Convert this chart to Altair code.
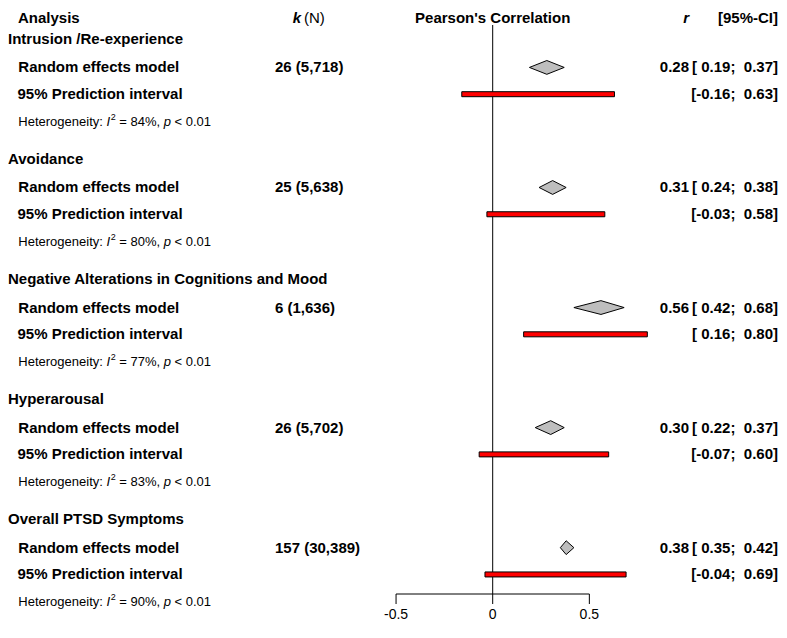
import altair as alt
import pandas as pd

# ---------------- data ----------------
groups = ["Intrusion /Re-experience", "Avoidance",
          "Negative Alterations in Cognitions and Mood", "Hyperarousal",
          "Overall PTSD Symptoms"]
k_n = ["26 (5,718)", "25 (5,638)", "6 (1,636)", "26 (5,702)", "157 (30,389)"]
r_est = [0.28, 0.31, 0.56, 0.30, 0.38]
ci_lo = [0.19, 0.24, 0.42, 0.22, 0.35]
ci_hi = [0.37, 0.38, 0.68, 0.37, 0.42]
pi_lo = [-0.16, -0.03, 0.16, -0.07, -0.04]
pi_hi = [0.63, 0.58, 0.80, 0.60, 0.69]
i2 = [84, 80, 77, 83, 90]
p_txt = ["< 0.01", "< 0.01", "< 0.01", "< 0.01", "< 0.01"]
rem_label = "Random effects model"
pi_label = "95% Prediction interval"
axis_ticks = [-0.5, 0.0, 0.5]
axis_labels = ["-0.5", "0", "0.5"]

# ---------------- layout ----------------
FONT = "Liberation Sans"
W, H = 771, 615
GROUP_STEP = 4.35
NB = "\u00a0"

XS = alt.Scale(domain=[-2.5075, 1.4811], nice=False, zero=False, padding=0)
YS = alt.Scale(domain=[-1.12319, 21.1594], range=[0, H], nice=False, zero=False, padding=0)

AXIS_Y = 586
TICK_END = 596
LABEL_Y = 607
HEAD_Y = 15


def num(v):
    return f"{v:.2f}" if v < 0 else f"{NB}{v:.2f}"


def ci(lo, hi):
    return f"[{num(lo)};{NB}{NB}{hi:.2f}]"


df = pd.DataFrame({
    "group": groups, "kn": k_n, "est": r_est, "lo": ci_lo, "hi": ci_hi,
    "plo": pi_lo, "phi": pi_hi, "i2": i2, "p": p_txt,
})
df["g"] = range(len(df))
df["u_title"] = df["g"] * GROUP_STEP
df["u_rem"] = df["u_title"] + 1.03
df["u_pi"] = df["u_title"] + 2.0
df["u_het"] = df["u_title"] + 3.0
df["rem"] = rem_label
df["pil"] = pi_label
df["est_txt"] = [f"{v:.2f}" for v in r_est]
df["ci_txt"] = [ci(a, b) for a, b in zip(ci_lo, ci_hi)]
df["pi_txt"] = [ci(a, b) for a, b in zip(pi_lo, pi_hi)]
df["het1"] = "Heterogeneity:"
df["het_I"] = "I"
df["het_p"] = "p"
df["het_2"] = "2"
df["het_eq"] = [f"= {v}%," for v in i2]

# diamond outline points
HALF = 0.25
drows = []
for i in range(len(df)):
    u = df.loc[i, "u_rem"]
    drows.append({"g": i, "x": ci_lo[i], "ya": u, "yb": u})
    drows.append({"g": i, "x": r_est[i], "ya": u - HALF, "yb": u + HALF})
    drows.append({"g": i, "x": ci_hi[i], "ya": u, "yb": u})
dd = pd.DataFrame(drows)


def txt(data, field, x_px, yfield, size=15, weight="bold", style="normal",
        align="left", dy=0):
    return alt.Chart(data).mark_text(
        align=align, baseline="middle", font=FONT, fontSize=size,
        fontWeight=weight, fontStyle=style, dy=dy, color="black",
    ).encode(
        x=alt.value(x_px),
        y=alt.Y(f"{yfield}:Q", scale=YS, axis=None),
        text=f"{field}:N",
    )


layers = []
# group titles and row labels
layers.append(txt(df, "group", 0, "u_title"))
layers.append(txt(df, "rem", 10.3, "u_rem"))
layers.append(txt(df, "pil", 9.5, "u_pi"))
# heterogeneity line (composite)
layers.append(txt(df, "het1", 10.3, "u_het", size=13, weight="normal"))
layers.append(txt(df, "het_I", 98.5, "u_het", size=13, weight="normal", style="italic"))
layers.append(txt(df, "het_2", 102.7, "u_het", size=9, weight="normal", dy=-5))
layers.append(txt(df, "het_eq", 111.3, "u_het", size=13, weight="normal"))
layers.append(txt(df, "het_p", 155.7, "u_het", size=13, weight="normal", style="italic"))
layers.append(txt(df, "p", 166.5, "u_het", size=13, weight="normal"))
# k (N)
layers.append(txt(df, "kn", 267, "u_rem"))
# r and CI
layers.append(txt(df, "est_txt", 681, "u_rem", align="right"))
layers.append(txt(df, "ci_txt", 770, "u_rem", align="right"))
layers.append(txt(df, "pi_txt", 770, "u_pi", align="right"))

# zero line
layers.append(alt.Chart(pd.DataFrame({"x": [0.0]})).mark_rule(
    color="black", strokeWidth=1).encode(
    x=alt.X("x:Q", scale=XS, axis=None),
    y=alt.value(17), y2=alt.value(AXIS_Y)))

# prediction interval bars
layers.append(alt.Chart(df).mark_bar(
    height=5, fill="#FF0000", stroke="black", strokeWidth=1, orient="horizontal").encode(
    x=alt.X("plo:Q", scale=XS, axis=None), x2="phi:Q",
    y=alt.Y("u_pi:Q", scale=YS, axis=None)))

# diamonds
layers.append(alt.Chart(dd).mark_area(
    fill="#BEBEBE", stroke="black", strokeWidth=1, fillOpacity=1).encode(
    x=alt.X("x:Q", scale=XS, axis=None),
    y=alt.Y("ya:Q", scale=YS, axis=None), y2="yb:Q",
    detail="g:N"))

# custom x axis
ax = pd.DataFrame({"t": axis_ticks, "lab": axis_labels})
layers.append(alt.Chart(pd.DataFrame({"a": [min(axis_ticks)], "b": [max(axis_ticks)]}))
              .mark_rule(color="black", strokeWidth=1).encode(
    x=alt.X("a:Q", scale=XS, axis=None), x2="b:Q", y=alt.value(AXIS_Y)))
layers.append(alt.Chart(ax).mark_rule(color="black", strokeWidth=1).encode(
    x=alt.X("t:Q", scale=XS, axis=None), y=alt.value(AXIS_Y), y2=alt.value(TICK_END)))
layers.append(alt.Chart(ax).mark_text(
    font=FONT, fontSize=14, baseline="middle", align="center", color="black").encode(
    x=alt.X("t:Q", scale=XS, axis=None), y=alt.value(LABEL_Y), text="lab:N"))


# header
def head(t, x_px, align="left", weight="bold", style="normal"):
    return alt.Chart(pd.DataFrame({"t": [t]})).mark_text(
        font=FONT, fontSize=15, fontWeight=weight, fontStyle=style,
        align=align, baseline="alphabetic", color="black").encode(
        x=alt.value(x_px), y=alt.value(HEAD_Y), text="t:N")


layers.append(head("Analysis", 10))
layers.append(head("k", 284.7, style="italic"))
layers.append(head("(N)", 296, weight="normal"))
layers.append(head("Pearson's Correlation", 484.7, align="center"))
layers.append(head("r", 681, align="right", style="italic"))
layers.append(head("[95%-CI]", 770, align="right"))

chart = alt.layer(*layers).properties(
    width=W, height=H, padding=0,
    autosize=alt.AutoSizeParams(type="none"),
).configure_view(stroke=None)

chart.save("out.html", embed_options={"renderer": "svg", "actions": False})
